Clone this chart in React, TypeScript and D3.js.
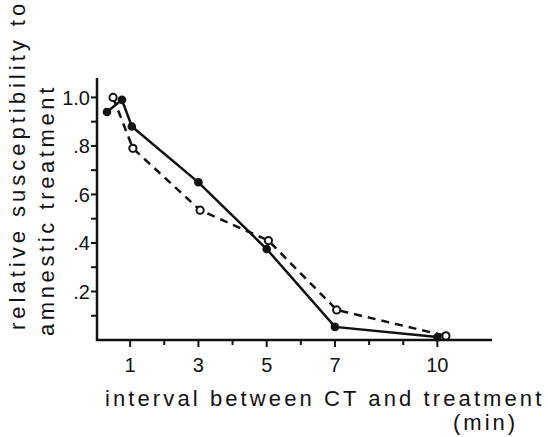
import React from "react";
import * as d3 from "d3";

const solidX = [0.32, 0.76, 1.05, 3, 5, 7, 10];
const solidY = [0.94, 0.99, 0.88, 0.65, 0.375, 0.054, 0.012];
const dashedX = [0.5, 1.08, 3.05, 5.05, 7.05, 10.25];
const dashedY = [1.0, 0.79, 0.535, 0.41, 0.124, 0.017];
const xMajorTicks = [1, 3, 5, 7, 10];
const xMinorTicks = [2, 4, 6, 8, 9];
const yMajorTicks = [0.2, 0.4, 0.6, 0.8, 1.0];
const yMinorTicks = [0.1, 0.3, 0.5, 0.7, 0.9];
const yTickLabels = [".2", ".4", ".6", ".8", "1.0"];

const W = 548;
const H = 437;
const FONT = "'Liberation Sans', Arial, Helvetica, sans-serif";

export default function App() {
  const x = d3.scaleLinear().domain([0, 11.6]).range([96, 492]);
  const y = d3.scaleLinear().domain([0, 1.08]).range([340, 78]);
  const line = d3
    .line<[number, number]>()
    .x((d) => x(d[0]))
    .y((d) => y(d[1]));
  const solid = solidX.map((v, i) => [v, solidY[i]] as [number, number]);
  const dashed = dashedX.map((v, i) => [v, dashedY[i]] as [number, number]);
  const ink = "#111";

  return (
    <svg
      width={W}
      height={H}
      style={{ position: "absolute", left: 0, top: 0, background: "#fff" }}
      fontFamily={FONT}
    >
      <rect width={W} height={H} fill="#fff" />
      {/* axes */}
      <line x1={x(0) + 1} x2={x(0) + 1} y1={y(1.08)} y2={y(0) + 1} stroke={ink} strokeWidth={2.5} />
      <line x1={x(0)} x2={x(11.6)} y1={y(0)} y2={y(0)} stroke={ink} strokeWidth={2.5} />
      {yMajorTicks.concat(yMinorTicks).map((t) => (
        <line key={"yt" + t} x1={x(0) - 5} x2={x(0) + 1} y1={y(t)} y2={y(t)} stroke={ink} strokeWidth={2} />
      ))}
      {yMajorTicks.map((t, i) => (
        <text
          key={"yl" + t}
          x={x(0) - 6}
          y={y(t)}
          dy="0.36em"
          textAnchor="end"
          fontSize={20}
          fill={ink}
        >
          {yTickLabels[i]}
        </text>
      ))}
      {xMajorTicks.map((t) => (
        <line key={"xt" + t} x1={x(t)} x2={x(t)} y1={y(0)} y2={y(0) + 7} stroke={ink} strokeWidth={2} />
      ))}
      {xMinorTicks.map((t) => (
        <line key={"xm" + t} x1={x(t)} x2={x(t)} y1={y(0)} y2={y(0) + 5} stroke={ink} strokeWidth={2} />
      ))}
      {xMajorTicks.map((t) => (
        <text key={"xl" + t} x={x(t)} y={372} textAnchor="middle" fontSize={20} fill={ink}>
          {t}
        </text>
      ))}
      {/* series */}
      <path d={line(dashed) || ""} fill="none" stroke={ink} strokeWidth={2.5} strokeDasharray="8,6" />
      <path d={line(solid) || ""} fill="none" stroke={ink} strokeWidth={2.5} />
      {solid.map((d, i) => (
        <circle key={"s" + i} cx={x(d[0])} cy={y(d[1])} r={4.3} fill={ink} />
      ))}
      {dashed.map((d, i) => (
        <circle key={"o" + i} cx={x(d[0])} cy={y(d[1])} r={3.6} fill="#fff" stroke={ink} strokeWidth={2} />
      ))}
      {/* titles */}
      <text x={105} y={406} fontSize={22} letterSpacing={3.1} fill={ink}>
        interval between CT and treatment
      </text>
      <text x={453} y={430} fontSize={22} letterSpacing={3} fill={ink}>
        (min)
      </text>
      <text
        transform="translate(25,330) rotate(-90)"
        fontSize={22}
        letterSpacing={4}
        fill={ink}
      >
        relative susceptibility to
      </text>
      <text
        transform="translate(54,336) rotate(-90)"
        fontSize={22}
        letterSpacing={3.6}
        fill={ink}
      >
        amnestic treatment
      </text>
    </svg>
  );
}
